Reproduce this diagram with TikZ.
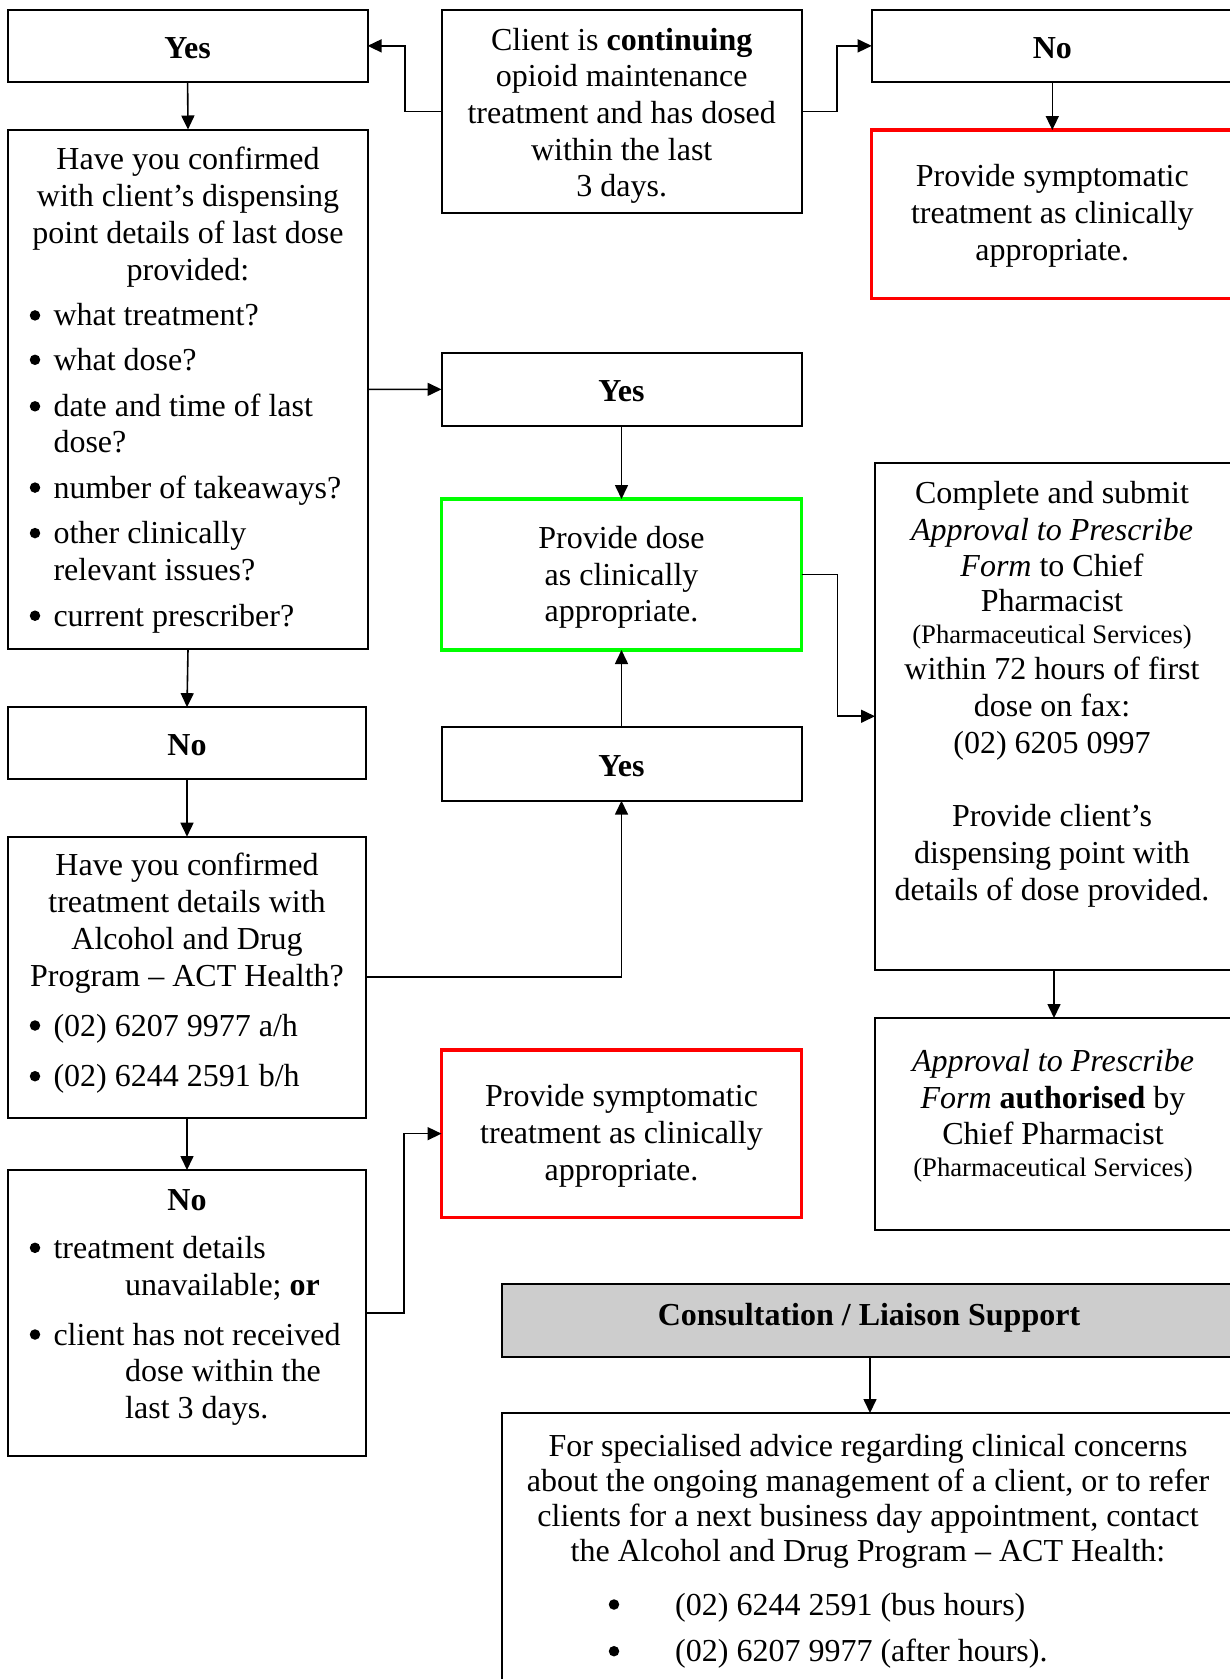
\documentclass[tikz,border=0pt]{standalone}
\usepackage{fontspec}
\setmainfont{Liberation Serif}
\usetikzlibrary{arrows.meta}
\definecolor{bgreen}{RGB}{0,255,0}
\definecolor{bred}{RGB}{255,0,0}
\definecolor{hdrgray}{RGB}{205,205,205}
\tikzset{
  box/.style={draw=black, line width=2pt, rectangle, inner sep=0pt, outer sep=0pt},
  redbox/.style={box, draw=bred, line width=3.3pt},
  greenbox/.style={box, draw=bgreen, line width=3.3pt},
  graybox/.style={box, fill=hdrgray},
  arr/.style={line width=1.6pt, -{Triangle[length=14pt,width=13pt]}},
  txt/.style={inner sep=0pt, font=\fontsize{32}{36.7}\selectfont},
  smalltxt/.style={inner sep=0pt, font=\fontsize{26.7}{30}\selectfont},
  bulletdot/.style={circle, fill=black, draw=none, inner sep=0pt, minimum size=10.5pt},
}
\newcommand\TxC[4]{\node[txt,anchor=base] (#1) at (#2,#3) {#4};}
\newcommand\TxS[4]{\node[smalltxt,anchor=base] (#1) at (#2,#3) {#4};}
\newcommand\TxL[4]{\node[txt,anchor=base west] (#1) at (#2,#3) {#4};}
\newcommand\TxB[3]{\node[bulletdot] (#1) at (#2,{#3-10.5}) {};}
\begin{document}
\begin{tikzpicture}[x=1pt,y=-1pt]
\useasboundingbox (0,0) rectangle (1230,1679);
\clip (0,0) rectangle (1230,1679);
\fill[white] (0,0) rectangle (1230,1679);

% ---------- boxes ----------
\node[box, minimum width=360pt, minimum height=71.7pt] (yesTL) at (187.6,45.85) {};
\node[box, minimum width=360pt, minimum height=202.7pt] (client) at (621.7,111.35) {};
\node[box, minimum width=361.2pt, minimum height=71.7pt] (noTR) at (1052.3,45.85) {};
\node[redbox, minimum width=361.2pt, minimum height=168.3pt] (redTR) at (1052.3,214.15) {};
\node[box, minimum width=360pt, minimum height=519.8pt] (conf) at (188,389.4) {};
\node[box, minimum width=360pt, minimum height=73.3pt] (yesM) at (621.5,389.35) {};
\node[greenbox, minimum width=360pt, minimum height=151pt] (dose) at (621.5,574.5) {};
\node[box, minimum width=358pt, minimum height=507.5pt] (submit) at (1054,716.25) {};
\node[box, minimum width=358pt, minimum height=71.7pt] (noL) at (187,743) {};
\node[box, minimum width=360pt, minimum height=73.4pt] (yesL) at (621.5,764) {};
\node[box, minimum width=358pt, minimum height=280.8pt] (treat) at (187,977.1) {};
\node[redbox, minimum width=360pt, minimum height=167.3pt] (redM) at (621.5,1133.65) {};
\node[box, minimum width=358pt, minimum height=212pt] (approval) at (1054,1124) {};
\node[box, minimum width=358pt, minimum height=285.7pt] (noB) at (187,1312.85) {};
\node[graybox, minimum width=737pt, minimum height=72.7pt] (consult) at (870,1320.35) {};
\node[box, minimum width=737pt, minimum height=287pt] (advice) at (870,1556.5) {};

% ---------- connectors ----------
\draw[arr] (client.west) -- ++(-36.7,0) |- (yesTL.east);
\draw[arr] (client.east) -- ++(35,0) |- (noTR.west);
\draw[arr] (yesTL.south) -- (conf.north);
\draw[arr] (noTR.south) -- (redTR.north);
\draw[arr] (conf.east) -- (yesM.west);
\draw[arr] (yesM.south) -- (dose.north);
\draw[arr] (conf.south) -- (noL.north);
\draw[arr] (noL.south) -- (treat.north);
\draw[arr] (treat.east) -| (yesL.south);
\draw[arr] (yesL.north) -- (dose.south);
\draw[arr] (dose.east) -- ++(36,0) |- (submit.west);
\draw[arr] (submit.south) -- (approval.north);
\draw[arr] (treat.south) -- (noB.north);
\draw[arr] (noB.east) -- ++(38,0) |- (redM.west);
\draw[arr] (consult.south) -- (advice.north);

% ---------- texts ----------
\TxC{tYesTL}{187.6}{58.5}{\textbf{Yes}}
\TxC{tc1}{621.7}{50}{Client is \textbf{continuing}}
\TxC{tc2}{621.7}{86.7}{opioid maintenance}
\TxC{tc3}{621.7}{123.4}{treatment and has dosed}
\TxC{tc4}{621.7}{160.1}{within the last}
\TxC{tc5}{621.7}{196.8}{3 days.}
\TxC{tNoTR}{1052.3}{58.5}{\textbf{No}}
\TxC{tr1}{1052.3}{186.7}{Provide symptomatic}
\TxC{tr2}{1052.3}{223.3}{treatment as clinically}
\TxC{tr3}{1052.3}{260}{appropriate.}

\TxC{lb1}{188}{169.9}{Have you confirmed}
\TxC{lb2}{188}{206.6}{with client’s dispensing}
\TxC{lb3}{188}{243.3}{point details of last dose}
\TxC{lb4}{188}{280}{provided:}
\TxB{lbb1}{35}{325.9}\TxL{lbt1}{53.3}{325.9}{what treatment?}
\TxB{lbb2}{35}{370.3}\TxL{lbt2}{53.3}{370.3}{what dose?}
\TxB{lbb3}{35}{416.8}\TxL{lbt3}{53.3}{416.8}{date and time of last}
\TxL{lbt3b}{53.3}{452.3}{dose?}
\TxB{lbb4}{35}{498.1}\TxL{lbt4}{53.3}{498.1}{number of takeaways?}
\TxB{lbb5}{35}{543.6}\TxL{lbt5}{53.3}{543.6}{other clinically}
\TxL{lbt5b}{53.3}{580.1}{relevant issues?}
\TxB{lbb6}{35}{626.2}\TxL{lbt6}{53.3}{626.2}{current prescriber?}

\TxC{tYesM}{621.5}{401.7}{\textbf{Yes}}
\TxC{tg1}{621.5}{548.3}{Provide dose}
\TxC{tg2}{621.5}{585}{as clinically}
\TxC{tg3}{621.5}{621.7}{appropriate.}
\TxC{tYesL}{621.5}{776}{\textbf{Yes}}

\TxC{ts1}{1052}{503.3}{Complete and submit}
\TxC{ts2}{1052}{540}{\textit{Approval to Prescribe}}
\TxC{ts3}{1052}{576.7}{\textit{Form} to Chief}
\TxC{ts4}{1052}{611.7}{Pharmacist}
\TxS{ts5}{1052}{643.3}{(Pharmaceutical Services)}
\TxC{ts6}{1052}{679.3}{within 72 hours of first}
\TxC{ts7}{1052}{716.3}{dose on fax:}
\TxC{ts8}{1052}{753}{(02) 6205 0997}
\TxC{ts9}{1052}{826.7}{Provide client’s}
\TxC{ts10}{1052}{863.4}{dispensing point with}
\TxC{ts11}{1052}{900}{details of dose provided.}

\TxC{ta1}{1053}{1071.8}{\textit{Approval to Prescribe}}
\TxC{ta2}{1053}{1108.3}{\textit{Form} \textbf{authorised} by}
\TxC{ta3}{1053}{1144.6}{Chief Pharmacist}
\TxS{ta4}{1053}{1176}{(Pharmaceutical Services)}

\TxC{tNoL}{187}{755}{\textbf{No}}
\TxC{tt1}{187}{875}{Have you confirmed}
\TxC{tt2}{187}{912.7}{treatment details with}
\TxC{tt3}{187}{949.4}{Alcohol and Drug}
\TxC{tt4}{187}{986.1}{Program – ACT Health?}
\TxB{ttb1}{35}{1036}\TxL{ttt1}{53.3}{1036}{(02) 6207 9977 a/h}
\TxB{ttb2}{35}{1086.7}\TxL{ttt2}{53.3}{1086.7}{(02) 6244 2591 b/h}

\TxC{tm1}{621.5}{1106.7}{Provide symptomatic}
\TxC{tm2}{621.5}{1143.3}{treatment as clinically}
\TxC{tm3}{621.5}{1180}{appropriate.}

\TxC{tNoB}{187}{1210}{\textbf{No}}
\TxB{tnb1}{35}{1258.3}\TxL{tnt1}{53.3}{1258.3}{treatment details}
\TxL{tnt1b}{125}{1295}{unavailable; \textbf{or}}
\TxB{tnb2}{35}{1345}\TxL{tnt2}{53.3}{1345}{client has not received}
\TxL{tnt2b}{125}{1381.7}{dose within the}
\TxL{tnt2c}{125}{1418.3}{last 3 days.}

\TxC{tcons}{869}{1325}{\textbf{Consultation / Liaison Support}}
\TxC{tad1}{868}{1456.7}{For specialised advice regarding clinical concerns}
\TxC{tad2}{868}{1491.7}{about the ongoing management of a client, or to refer}
\TxC{tad3}{868}{1526.7}{clients for a next business day appointment, contact}
\TxC{tad4}{868}{1561.7}{the Alcohol and Drug Program – ACT Health:}
\TxB{tadb1}{614}{1615}\TxL{tadt1}{675}{1615}{(02) 6244 2591 (bus hours)}
\TxB{tadb2}{614}{1661.7}\TxL{tadt2}{675}{1661.7}{(02) 6207 9977 (after hours).}
\end{tikzpicture}
\end{document}
